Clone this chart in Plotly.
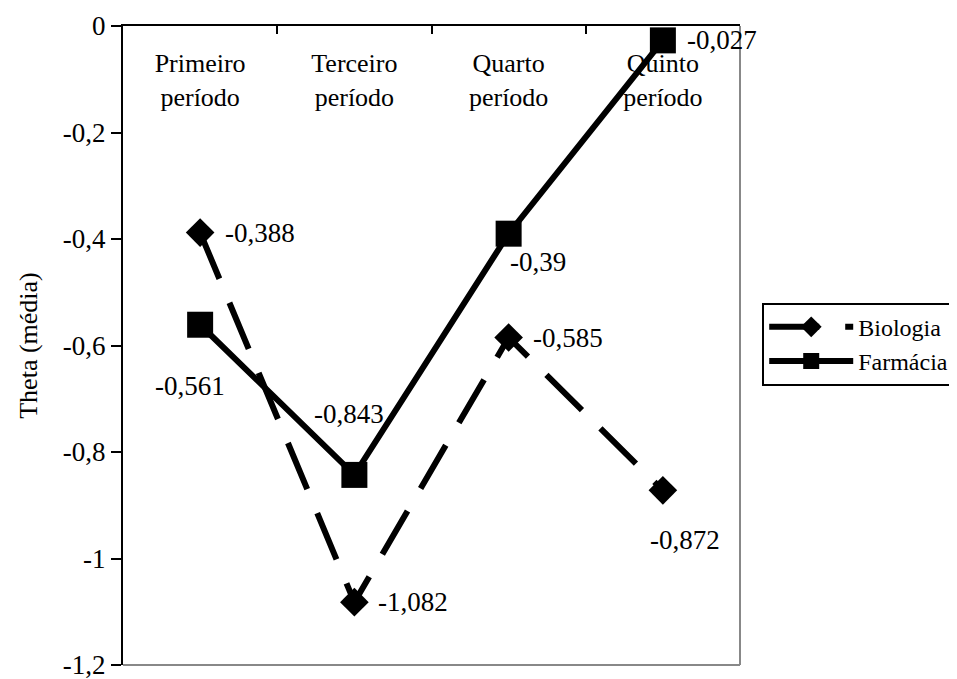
import plotly.graph_objects as go

categories = ["Primeiro<br>período", "Terceiro<br>período", "Quarto<br>período", "Quinto<br>período"]
biologia = [-0.388, -1.082, -0.585, -0.872]
farmacia = [-0.561, -0.843, -0.39, -0.027]
bio_labels = ["-0,388", "-1,082", "-0,585", "-0,872"]
far_labels = ["-0,561", "-0,843", "-0,39", "-0,027"]
y_ticks = [0, -0.2, -0.4, -0.6, -0.8, -1.0, -1.2]
y_ticktext = ["0", "-0,2", "-0,4", "-0,6", "-0,8", "-1", "-1,2"]

FONT = "Liberation Serif, Times New Roman, serif"
NUM = 27
TXT = 26

fig = go.Figure()
fig.add_trace(go.Scatter(
    x=categories, y=biologia, name="Biologia", mode="lines+markers",
    line=dict(color="black", width=6, dash="50px,26px"),
    marker=dict(symbol="diamond", size=22, color="black"),
))
fig.add_trace(go.Scatter(
    x=categories, y=farmacia, name="Farmácia", mode="lines+markers",
    line=dict(color="black", width=6),
    marker=dict(symbol="square", size=26, color="black"),
))

# data labels: (xshift, yshift, anchor)
bio_pos = [(23, 0, "left"), (22, 0, "left"), (22, 0, "left"), (-15, -50, "left")]
far_pos = [(27, -61, "right"), (32, 61, "right"), (-1, -28, "left"), (22, 0, "left")]
for i in range(4):
    dx, dy, anc = bio_pos[i]
    fig.add_annotation(x=categories[i], y=biologia[i], text=bio_labels[i], showarrow=False,
                       xshift=dx, yshift=dy, xanchor=anc, yanchor="middle",
                       font=dict(family=FONT, size=NUM, color="black"))
    dx, dy, anc = far_pos[i]
    fig.add_annotation(x=categories[i], y=farmacia[i], text=far_labels[i], showarrow=False,
                       xshift=dx, yshift=dy, xanchor=anc, yanchor="middle",
                       font=dict(family=FONT, size=NUM, color="black"))

# gray right/bottom border of plot area
fig.add_shape(type="line", xref="paper", yref="paper", x0=1, x1=1, y0=0, y1=1,
              line=dict(color="#888888", width=2))
fig.add_shape(type="line", xref="paper", yref="paper", x0=0, x1=1, y0=0, y1=0,
              line=dict(color="#888888", width=2))

fig.update_layout(
    width=949, height=671,
    margin=dict(l=115, r=217, t=18, b=14, autoexpand=False),
    plot_bgcolor="white", paper_bgcolor="white",
    font=dict(family=FONT, size=TXT, color="black"),
    showlegend=True,
    legend=dict(x=1.036, y=0.567, xanchor="left", yanchor="top",
                bordercolor="black", borderwidth=2, bgcolor="white",
                font=dict(family=FONT, size=24, color="black"), itemwidth=84,
                tracegroupgap=0),
    xaxis=dict(type="category", side="top", range=[-0.5, 3.5], automargin=False,
               showline=True, linecolor="black", linewidth=2,
               ticks="inside", ticklen=8, tickwidth=2, tickcolor="black",
               tickson="boundaries", ticklabelposition="inside", ticklabelstandoff=22,
               ticklabeloverflow="allow",
               showgrid=False, zeroline=False,
               tickfont=dict(family=FONT, size=TXT, color="black")),
    yaxis=dict(range=[-1.2, 0], tickvals=y_ticks, ticktext=y_ticktext, automargin=False,
               showline=True, linecolor="black", linewidth=2,
               ticks="outside", ticklen=10, tickwidth=2, tickcolor="black",
               ticklabeloverflow="allow",
               showgrid=False, zeroline=False,
               title=dict(text="Theta (média)", font=dict(family=FONT, size=TXT, color="black"),
                          standoff=18),
               tickfont=dict(family=FONT, size=NUM, color="black")),
)

fig.write_html("out.html")
